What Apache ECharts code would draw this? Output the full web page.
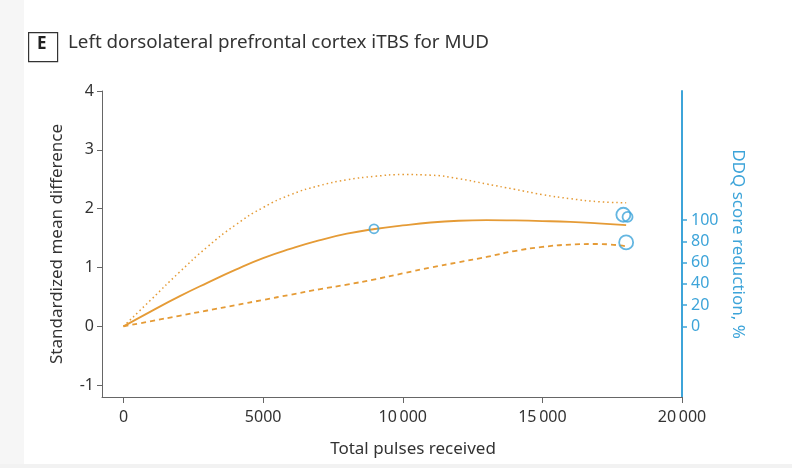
<!DOCTYPE html>
<html>
<head>
<meta charset="utf-8">
<script src="https://cdn.jsdelivr.net/npm/echarts@6/dist/echarts.min.js"></script>
<style>
  html, body { margin: 0; padding: 0; background: #fff; }
  #main { width: 792px; height: 468px; }
</style>
</head>
<body>
<div id="main"></div>
<script>
// total pulses (x) for the model curves
const pulses = [0, 1000, 2000, 3000, 4000, 5000, 6000, 7000, 8000, 9000, 10000,
  11000, 12000, 13000, 14000, 15000, 16000, 17000, 18000];
// standardized mean difference: estimate, upper and lower bounds
const smdMean = [0, 0.26, 0.51, 0.74, 0.96, 1.16, 1.32, 1.46, 1.575, 1.655, 1.715,
  1.765, 1.795, 1.805, 1.80, 1.79, 1.775, 1.75, 1.72];
const smdUpper = [0, 0.46, 0.92, 1.35, 1.72, 2.02, 2.24, 2.39, 2.49, 2.55, 2.58,
  2.57, 2.51, 2.42, 2.33, 2.24, 2.17, 2.12, 2.10];
const smdLower = [0, 0.09, 0.18, 0.27, 0.36, 0.45, 0.54, 0.63, 0.71, 0.80, 0.90,
  1.00, 1.09, 1.18, 1.28, 1.35, 1.39, 1.40, 1.36];

// DDQ score reduction points (right axis)
const ddqPulses = [8970, 17900, 18050, 18000];
const ddqValues = [91.8, 105, 103, 79];
const ddqSizes = [9, 14, 10, 14];

const xTicks = [0, 5000, 10000, 15000, 20000];
const yTicks = [-1, 0, 1, 2, 3, 4];
const ddqTicks = [0, 20, 40, 60, 80, 100];

const orange = '#E59B36';
const blue = '#3DA4D9';
const font = 'Noto Sans';

function pairs(xs, ys) {
  return xs.map((x, i) => [x, ys[i]]);
}

const chart = echarts.init(document.getElementById('main'));
chart.setOption({
  backgroundColor: '#fff',
  animation: false,
  textStyle: { fontFamily: font },
  graphic: [
    { type: 'rect', left: 0, top: 0, shape: { width: 24, height: 468 }, style: { fill: '#f6f6f6' } },
    { type: 'rect', left: 0, top: 464, shape: { width: 792, height: 4 }, style: { fill: '#f2f2f2' } },
    { type: 'rect', left: 28, top: 32, shape: { width: 29, height: 29 },
      style: { fill: '#fff', stroke: '#333', lineWidth: 1.2 } },
    { type: 'text', left: 37, top: 36,
      style: { text: 'E', fontFamily: font, fontSize: 17, fontWeight: 'bold', fill: '#222' } },
    { type: 'text', left: 68, top: 33,
      style: { text: 'Left dorsolateral prefrontal cortex iTBS for MUD', fontFamily: font, fontSize: 18.8, fill: '#333' } }
  ],
  grid: { left: 102, right: 110, top: 91, bottom: 71 },
  xAxis: {
    type: 'value',
    min: -770,
    max: 20000,
    name: 'Total pulses received',
    nameLocation: 'middle',
    nameGap: 44,
    nameTextStyle: { fontSize: 17, color: '#333', padding: [0, 0, 0, 42] },
    axisLine: { show: true, onZero: false, lineStyle: { color: '#666', width: 1 } },
    axisTick: { show: true, length: 6, lineStyle: { color: '#666' }, customValues: xTicks },
    axisLabel: {
      fontSize: 16, color: '#333', margin: 12, customValues: xTicks,
      formatter: v => v >= 10000 ? String(v).replace(/(\d{2})(\d{3})$/, '$1\u2009$2') : String(v)
    },
    splitLine: { show: false }
  },
  yAxis: [
    {
      type: 'value',
      min: -1.2,
      max: 4,
      name: 'Standardized mean difference',
      nameLocation: 'middle',
      nameRotate: 90,
      nameGap: 36,
      nameTextStyle: { fontSize: 17, color: '#333' },
      axisLine: { show: true, onZero: false, lineStyle: { color: '#666', width: 1 } },
      axisTick: { show: true, length: 5, lineStyle: { color: '#666' }, customValues: yTicks },
      axisLabel: { fontSize: 16, color: '#333', margin: 8, customValues: yTicks },
      splitLine: { show: false }
    },
    {
      type: 'value',
      position: 'right',
      min: -66.4,
      max: 221.4,
      name: 'DDQ score reduction, %',
      nameLocation: 'middle',
      nameRotate: -90,
      nameGap: 46,
      nameTextStyle: { fontSize: 17, color: blue },
      axisLine: { show: true, onZero: false, lineStyle: { color: blue, width: 2 } },
      axisTick: { show: true, length: 5, lineStyle: { color: blue, width: 1.5 }, customValues: ddqTicks },
      axisLabel: { fontSize: 16, color: blue, margin: 9, customValues: ddqTicks },
      splitLine: { show: false }
    }
  ],
  series: [
    {
      name: 'upper',
      type: 'line',
      data: pairs(pulses, smdUpper),
      smooth: 0.5,
      showSymbol: false,
      lineStyle: { color: orange, width: 1.5, type: [1.5, 3] }
    },
    {
      name: 'estimate',
      type: 'line',
      data: pairs(pulses, smdMean),
      smooth: 0.5,
      showSymbol: false,
      lineStyle: { color: orange, width: 1.8 }
    },
    {
      name: 'lower',
      type: 'line',
      data: pairs(pulses, smdLower),
      smooth: 0.5,
      showSymbol: false,
      lineStyle: { color: orange, width: 1.8, type: [5, 4] }
    },
    {
      name: 'DDQ',
      type: 'scatter',
      yAxisIndex: 1,
      data: ddqPulses.map((x, i) => ({ value: [x, ddqValues[i]], symbolSize: ddqSizes[i] })),
      symbol: 'circle',
      itemStyle: { color: 'rgba(255,255,255,0)', borderColor: blue, borderWidth: 1.8 },
      z: 5
    }
  ]
});
</script>
</body>
</html>
